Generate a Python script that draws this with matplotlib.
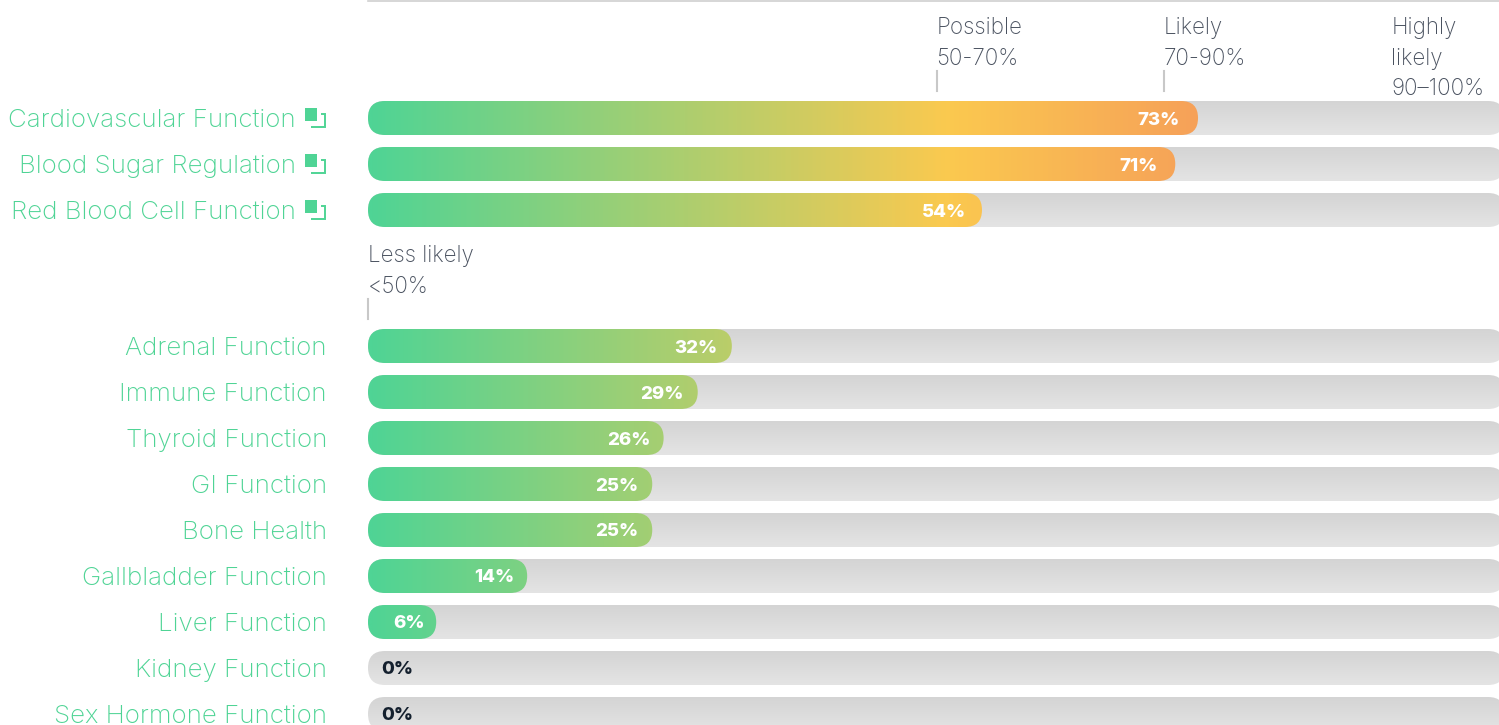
import numpy as np
import matplotlib
matplotlib.use("Agg")
import matplotlib.pyplot as plt
from matplotlib.patches import FancyBboxPatch, Rectangle
from matplotlib.colors import LinearSegmentedColormap

# ==========================================
# DATA
# ==========================================
TOP_NAMES = ["Cardiovascular Function", "Blood Sugar Regulation", "Red Blood Cell Function"]
TOP_VALUES = [73, 71, 54]
LOW_NAMES = ["Adrenal Function", "Immune Function", "Thyroid Function", "GI Function",
             "Bone Health", "Gallbladder Function", "Liver Function", "Kidney Function",
             "Sex Hormone Function"]
LOW_VALUES = [32, 29, 26, 25, 25, 14, 6, 0, 0]
BAND_LABELS = ["Less likely\n<50%", "Possible\n50-70%", "Likely\n70-90%", "Highly\nlikely\n90–100%"]
BAND_STARTS = [0, 50, 70, 90]

# ==========================================
# CONFIG (all in pixels of the 1499x725 figure)
# ==========================================
W, H = 1499, 725
X0 = 368
PX_PER_PCT = 11.37
BAR_H = 34
RADIUS = 17
TOP_ROWS = [118, 164, 210]
LOW_ROWS = [346, 392, 438, 484, 530, 576, 622, 668, 714]
LABEL_FONT = "Inter"
GREEN = "#4fd495"
GREY_TEXT = "#4a5260"
DARK = "#14202e"

fig = plt.figure(figsize=(W / 100, H / 100), dpi=100)
ax = fig.add_axes([0, 0, 1, 1])
# x axis in percent, y axis in pixels from the top
ax.set_xlim(-X0 / PX_PER_PCT, (W - X0) / PX_PER_PCT)
ax.set_ylim(H, 0)
ax.axis("off")

fill_cmap = LinearSegmentedColormap.from_list(
    "fill", [(0, "#4fd495"), (0.51, "#fbc94f"), (0.73, "#f6a159"), (1, "#f6a159")])
track_cmap = LinearSegmentedColormap.from_list("track", ["#d4d4d4", "#e4e4e4"])


def to_x(px):
    return (px - X0) / PX_PER_PCT


def rounded(value, yc):
    r = RADIUS / PX_PER_PCT
    return FancyBboxPatch((0, yc - BAR_H / 2), value, BAR_H,
                          boxstyle=f"round,pad=0,rounding_size={r}",
                          mutation_aspect=PX_PER_PCT, linewidth=0,
                          facecolor="none", transform=ax.transData)


def draw_bar(name, value, yc, icon):
    top, bottom = yc - BAR_H / 2, yc + BAR_H / 2
    # grey track
    im = ax.imshow(np.linspace(0, 1, 64).reshape(-1, 1), cmap=track_cmap, aspect="auto",
                   extent=(0, 100, bottom, top), zorder=1)
    patch = rounded(100, yc)
    ax.add_patch(patch)
    im.set_clip_path(patch)
    # gradient fill, colour depends on the position along the full scale
    if value > 0:
        grad = np.linspace(0, value / 100, 512).reshape(1, -1)
        im = ax.imshow(grad, cmap=fill_cmap, vmin=0, vmax=1, aspect="auto",
                       extent=(0, value, bottom, top), zorder=2)
        patch = rounded(value, yc)
        ax.add_patch(patch)
        im.set_clip_path(patch)
        # the label sits a bit further in on the longer bars
        inset = (11 + 0.10 * value) / PX_PER_PCT
        ax.text(value - inset, yc + 2, f"{value}%", ha="right", va="center",
                color="white", fontsize=13.4, fontweight=800, family=LABEL_FONT, zorder=3)
    else:
        ax.text(13 / PX_PER_PCT, yc + 2, f"{value}%", ha="left", va="center",
                color=DARK, fontsize=13.4, fontweight=800, family=LABEL_FONT, zorder=3)
    # row label
    right = (296 if icon else 327) - X0
    ax.text(right / PX_PER_PCT, yc + 2, name, ha="right", va="center", color=GREEN,
            fontsize=18.7, fontweight="light", family=LABEL_FONT)
    if icon:
        ax.add_patch(Rectangle((to_x(305), yc - 10), 12 / PX_PER_PCT, 13, color=GREEN, lw=0))
        ax.plot([to_x(321), to_x(325), to_x(325), to_x(311)],
                [yc - 4, yc - 4, yc + 9, yc + 9], color=GREEN, lw=1.4,
                solid_capstyle="butt", solid_joinstyle="miter")


for name, value, yc in zip(TOP_NAMES, TOP_VALUES, TOP_ROWS):
    draw_bar(name, value, yc, True)
for name, value, yc in zip(LOW_NAMES, LOW_VALUES, LOW_ROWS):
    draw_bar(name, value, yc, False)

# top rule
ax.plot([0, 100], [0.5, 0.5], color="#d0d0d0", lw=1.2, clip_on=True)

# band annotations
BAND_TOPS = [245, 17, 17, 17]
TICK_SPANS = [(299, 319), (71, 91), (71, 91), None]
for label, start, ty, span in zip(BAND_LABELS, BAND_STARTS, BAND_TOPS, TICK_SPANS):
    ax.text(start, ty, label, ha="left", va="top", color=GREY_TEXT, fontsize=16.1,
            fontweight="light", family=LABEL_FONT, linespacing=1.5)
    if span:
        ax.plot([start, start], span, color="#c8c8c8", lw=1.5)

ax.set_xlim(-X0 / PX_PER_PCT, (W - X0) / PX_PER_PCT)
ax.set_ylim(H, 0)
fig.savefig("out.png", dpi=100, facecolor="white")
